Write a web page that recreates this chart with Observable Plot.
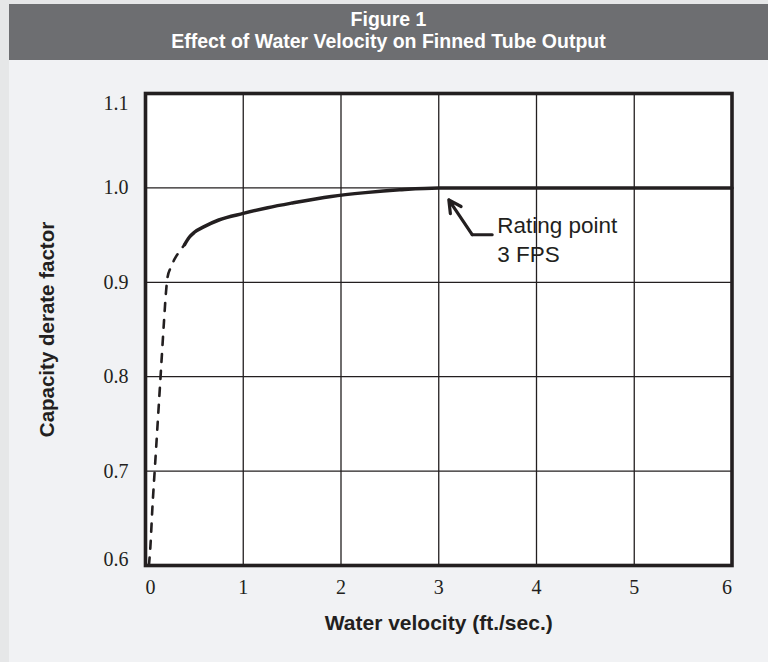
<!DOCTYPE html>
<html>
<head>
<meta charset="utf-8">
<script src="https://cdn.jsdelivr.net/npm/d3@7"></script>
<script src="https://cdn.jsdelivr.net/npm/@observablehq/plot@0.6"></script>
<style>
  html, body { margin: 0; padding: 0; width: 768px; height: 662px; overflow: hidden; background: #e6e7e8; }
  #page { position: absolute; left: 9px; top: 4px; width: 759px; height: 658px; background: #f1f2f4; }
  #title { position: absolute; left: 9px; top: 4px; width: 759px; height: 56px; box-sizing: border-box; padding-top: 4px;
           background: #6d6e71; color: #ffffff; font-family: "Liberation Sans", Arial, sans-serif; font-weight: bold;
           font-size: 19.5px; line-height: 22px; text-align: center; }
  #chart { position: absolute; left: 0; top: 60px; }
</style>
</head>
<body>
<div id="page"></div>
<div id="title">Figure 1<br>Effect of Water Velocity on Finned Tube Output</div>
<div id="chart"></div>
<script>
// Dashed (low-velocity) part of the curve
const dashedVelocity = [0.035, 0.05, 0.07, 0.1, 0.13, 0.16, 0.19, 0.21, 0.225, 0.26, 0.3, 0.35, 0.4];
const dashedFactor   = [0.6, 0.62, 0.66, 0.71, 0.76, 0.81, 0.86, 0.89, 0.905, 0.916, 0.925, 0.933, 0.94];
// Solid part of the curve
const solidVelocity = [0.4, 0.45, 0.5, 0.6, 0.75, 1.0, 1.25, 1.5, 1.9, 2.25, 2.6, 3.0, 6.0];
const solidFactor   = [0.94, 0.948, 0.953, 0.959, 0.966, 0.973, 0.979, 0.984, 0.991, 0.995, 0.998, 1.0, 1.0];

// Axes
const xDomain = [0, 6];
const yDomain = [0.6, 1.1];
const xTicksInner = [1, 2, 3, 4, 5];
const yTicksInner = [0.7, 0.8, 0.9, 1.0];
const xTickFirst = [0], xTickLast = [6];
const yTickTop = [1.1], yTickBottom = [0.6];
const xLabel = "Water velocity (ft./sec.)";
const yLabel = "Capacity derate factor";

// Annotation (data units)
const annoText = ["Rating point\n3 FPS"];
const annoTextX = [3.598], annoTextY = [0.974];
const leaderX = [3.547, 3.342], leaderY = [0.9505, 0.9505];
const arrowFrom = [3.342, 0.9505], arrowTo = [3.103, 0.9874];

const ink = "#231f20";
const dashed = dashedVelocity.map((x, i) => ({x, y: dashedFactor[i]}));
const solid = solidVelocity.map((x, i) => ({x, y: solidFactor[i]}));
const leader = leaderX.map((x, i) => ({x, y: leaderY[i]}));
const serif = "'Liberation Serif', 'Times New Roman', serif";
const sans = "'Liberation Sans', Arial, sans-serif";
const tickOptsX = {tickSize: 0, tickPadding: 14, fontFamily: serif, fontSize: 20, label: null, fill: ink};
const tickOptsY = {tickSize: 0, tickPadding: 17, fontFamily: serif, fontSize: 20, label: null, fill: ink, tickFormat: d => d.toFixed(1)};

const chart = Plot.plot({
  width: 768, height: 602,
  marginLeft: 145, marginRight: 36.5, marginTop: 33, marginBottom: 97,
  style: {background: "transparent", color: ink},
  x: {domain: xDomain},
  y: {domain: yDomain},
  marks: [
    Plot.frame({fill: "#ffffff", stroke: "none"}),
    Plot.gridX(xTicksInner, {stroke: ink, strokeOpacity: 1, strokeWidth: 1.3}),
    Plot.gridY(yTicksInner, {stroke: ink, strokeOpacity: 1, strokeWidth: 1.3}),
    Plot.line(dashed, {x: "x", y: "y", stroke: ink, strokeWidth: 2.6, strokeDasharray: "8,9", curve: "monotone-x"}),
    Plot.line(solid, {x: "x", y: "y", stroke: ink, strokeWidth: 3.5, curve: "monotone-x"}),
    Plot.frame({stroke: ink, strokeWidth: 3.6}),
    Plot.axisX(xTicksInner, tickOptsX),
    Plot.axisX(xTickFirst, {...tickOptsX, dx: 5}),
    Plot.axisX(xTickLast, {...tickOptsX, dx: -5}),
    Plot.axisY(yTicksInner, tickOptsY),
    Plot.axisY(yTickTop, {...tickOptsY, dy: 10}),
    Plot.axisY(yTickBottom, {...tickOptsY, dy: -6}),
    Plot.text([yLabel], {frameAnchor: "left", rotate: -90, dx: -98, textAnchor: "middle", lineAnchor: "middle",
      fontFamily: sans, fontWeight: "bold", fontSize: 20.5, fill: ink}),
    Plot.text([xLabel], {frameAnchor: "bottom", dy: 58, textAnchor: "middle", lineAnchor: "middle",
      fontFamily: sans, fontWeight: "bold", fontSize: 21, fill: ink}),
    Plot.line(leader, {x: "x", y: "y", stroke: ink, strokeWidth: 3}),
    Plot.arrow([0], {x1: () => arrowFrom[0], y1: () => arrowFrom[1], x2: () => arrowTo[0], y2: () => arrowTo[1],
      stroke: ink, strokeWidth: 3.2, headLength: 13, headAngle: 55}),
    Plot.text(annoText, {x: () => annoTextX[0], y: () => annoTextY[0], text: d => d, textAnchor: "start", lineAnchor: "top",
      lineHeight: 1.3, fontFamily: sans, fontSize: 22.5, fill: ink})
  ]
});
document.getElementById("chart").appendChild(chart);
</script>
</body>
</html>
